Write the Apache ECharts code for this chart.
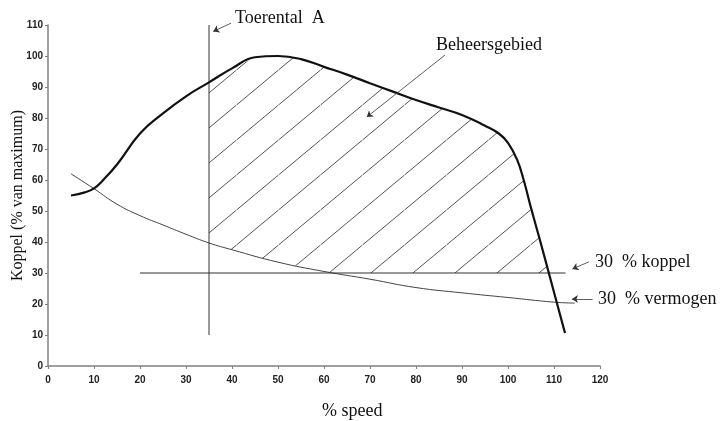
<!DOCTYPE html>
<html>
<head>
<meta charset="utf-8">
<script src="https://cdn.jsdelivr.net/npm/echarts@6/dist/echarts.min.js"></script>
<style>
html, body { margin: 0; padding: 0; background: #fff; }
#chart { width: 722px; height: 421px; }
</style>
</head>
<body>
<div id="chart"></div>
<script>
// koppel curve (% speed, % torque)
var torqueSpeed = [5, 8, 10, 12, 15, 20, 25, 30, 35, 40, 45, 50, 55, 60, 65, 70, 75, 80, 85, 90, 95, 98, 100, 102, 103.5, 105, 107, 110, 112.4];
var torqueValue = [55, 56, 57.3, 60, 65, 75, 81.5, 87, 91.5, 96, 99.6, 100, 99, 96.5, 94, 91.2, 88.5, 85.8, 83.4, 81, 77.5, 75, 72, 66.5, 59.5, 51, 40.3, 23.8, 10.6];

// 30 % vermogen curve
var powerSpeed = [5, 10, 15, 20, 25, 30, 35, 40, 50, 60, 70, 80, 90, 100, 110, 114.5];
var powerValue = [62, 57.2, 52.2, 48.5, 45.5, 42.5, 39.7, 37.5, 33.5, 30.5, 28, 25.3, 23.6, 22.1, 20.6, 20.3];

// 30 % koppel line and toerental A line
var koppelLevel = 30;
var koppelRange = [20, 112.5];
var speedA = 35;
var speedARange = [10, 110];

var torque = torqueSpeed.map(function (x, i) { return [x, torqueValue[i]]; });
var power = powerSpeed.map(function (x, i) { return [x, powerValue[i]]; });

function cross(a, b, level) {
  var t = (level - a[1]) / (b[1] - a[1]);
  return [a[0] + t * (b[0] - a[0]), level];
}

// beheersgebied: right of speed A, above max(30 %, vermogen), below koppel
function controlArea() {
  var top = [], bottom = [];
  var end = null;
  for (var i = 0; i < torque.length; i++) {
    var p = torque[i];
    if (p[0] < speedA) continue;
    if (p[1] < koppelLevel) { end = cross(torque[i - 1], p, koppelLevel); break; }
    top.push(p);
  }
  top.push(end);
  for (var j = 0; j < power.length; j++) {
    var q = power[j];
    if (q[0] < speedA) continue;
    if (q[1] < koppelLevel) { bottom.push(cross(power[j - 1], q, koppelLevel)); break; }
    bottom.push(q);
  }
  bottom.push([end[0], koppelLevel]);
  return top.concat(bottom.reverse());
}
var areaPoints = controlArea();

// diagonal hatch tile
var tile = document.createElement('canvas');
tile.width = 42;
tile.height = 35;
var g = tile.getContext('2d');
g.strokeStyle = '#555';
g.lineWidth = 1;
[-42, 0, 42].forEach(function (o) {
  g.beginPath();
  g.moveTo(26.5 + o, 0);
  g.lineTo(-15.5 + o, 35);
  g.stroke();
});

var serif = '"Liberation Serif", "DejaVu Serif", serif';

var arrows = [
  [[39.8, 110.6], [35.9, 107.9]],
  [[86.3, 100.3], [69.3, 80.3]],
  [[117.6, 33.6], [114.0, 31.3]],
  [[118.4, 21.6], [113.9, 21.6]]
];

var chart = echarts.init(document.getElementById('chart'));
chart.setOption({
  animation: false,
  backgroundColor: '#fff',
  grid: { left: 48, right: 122, top: 25, bottom: 55, containLabel: false, outerBoundsMode: 'none' },
  xAxis: {
    type: 'value', min: 0, max: 120, interval: 10,
    splitLine: { show: false },
    axisLine: { lineStyle: { color: '#808080', width: 1.5 } },
    axisTick: { length: 3, lineStyle: { color: '#808080' } },
    axisLabel: { margin: 9, color: '#222', fontSize: 10, fontWeight: 'bold', fontFamily: '"Liberation Sans", Arial, sans-serif' }
  },
  yAxis: {
    type: 'value', min: 0, max: 110, interval: 10,
    name: 'Koppel (% van maximum)',
    nameLocation: 'middle', nameGap: 22, nameRotate: 90, nameMoveOverlap: false,
    nameTextStyle: { fontFamily: serif, fontSize: 16, color: '#111' },
    splitLine: { show: false },
    axisLine: { show: true, lineStyle: { color: '#808080', width: 1.5 } },
    axisTick: { show: true, length: 3, lineStyle: { color: '#808080' } },
    axisLabel: { margin: 5, color: '#222', fontSize: 10, fontWeight: 'bold', fontFamily: '"Liberation Sans", Arial, sans-serif' }
  },
  graphic: [
    { type: 'text', style: { text: 'Toerental  A', x: 235, y: 18, font: '18px ' + serif, fill: '#111', verticalAlign: 'middle' } },
    { type: 'text', style: { text: 'Beheersgebied', x: 436, y: 45, font: '18px ' + serif, fill: '#111', verticalAlign: 'middle' } },
    { type: 'text', style: { text: '30  % koppel', x: 595, y: 262, font: '18px ' + serif, fill: '#111', verticalAlign: 'middle' } },
    { type: 'text', style: { text: '30  % vermogen', x: 598, y: 299, font: '18px ' + serif, fill: '#111', verticalAlign: 'middle' } },
    { type: 'text', style: { text: '% speed', x: 322, y: 411, font: '18px ' + serif, fill: '#111', verticalAlign: 'middle' } }
  ],
  series: [
    {
      type: 'custom',
      z: 1,
      silent: true,
      data: [[0, 0]],
      renderItem: function (params, api) {
        return {
          type: 'polygon',
          shape: { points: areaPoints.map(function (p) { return api.coord(p); }) },
          style: { fill: { image: tile, repeat: 'repeat' }, stroke: null }
        };
      }
    },
    {
      type: 'line', z: 3, data: torque, showSymbol: false, smooth: 0.45,
      lineStyle: { color: '#111', width: 2.2 }
    },
    {
      type: 'line', z: 2, data: power, showSymbol: false, smooth: 0.5,
      lineStyle: { color: '#444', width: 1 }
    },
    {
      type: 'line', z: 2, showSymbol: false,
      data: [[koppelRange[0], koppelLevel], [koppelRange[1], koppelLevel]],
      lineStyle: { color: '#333', width: 1.2 }
    },
    {
      type: 'line', z: 2, showSymbol: false,
      data: [[speedA, speedARange[0]], [speedA, speedARange[1]]],
      lineStyle: { color: '#333', width: 1 }
    },
    {
      type: 'lines', coordinateSystem: 'cartesian2d', z: 4, clip: false,
      symbol: ['none', 'arrow'], symbolSize: 6,
      lineStyle: { color: '#333', width: 0.8, opacity: 1 },
      data: arrows.map(function (a) { return { coords: a }; })
    }
  ]
});
</script>
</body>
</html>
